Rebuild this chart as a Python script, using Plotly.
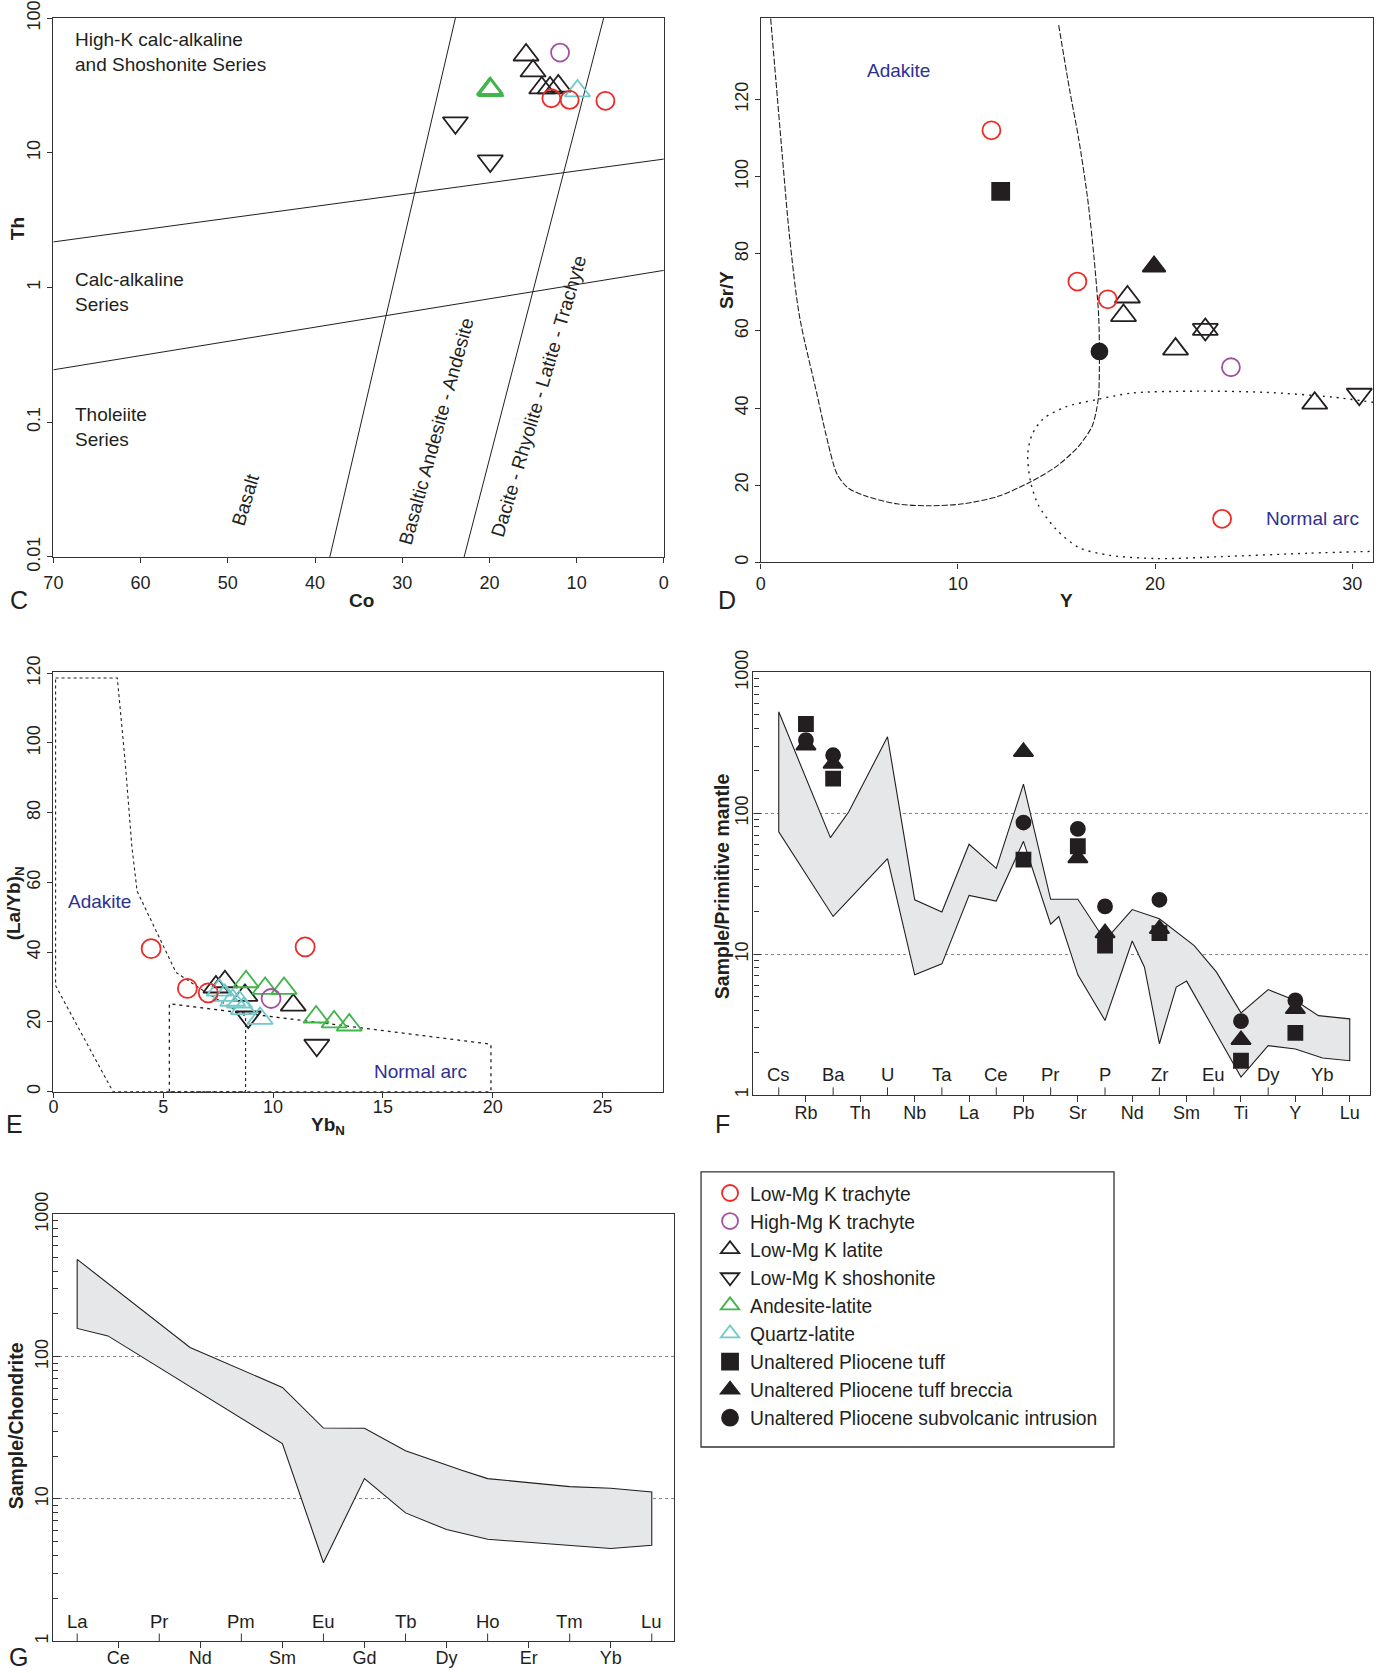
import plotly.graph_objects as go

FONT = "Liberation Sans, Arial, Helvetica, sans-serif"
INK = "#231f20"
RED = "#ee2a24"
PURPLE = "#a24fa6"
GREEN = "#3fb54a"
CYAN = "#72c9c9"
BLUE = "#2e3192"
BAND = "#e6e7e8"

# ---------------- Panel C : Th vs Co ----------------
C_TRACHYTE_LO_CO = [12.9, 10.8, 6.7]
C_TRACHYTE_LO_TH = [25.4, 24.7, 24.3]
C_TRACHYTE_HI_CO = [11.9]
C_TRACHYTE_HI_TH = [55.4]
C_LATITE_CO = [15.8, 15.0, 14.0, 13.05, 12.1]
C_LATITE_TH = [53.2, 40.5, 30.3, 30.3, 31.3]
C_SHOSHONITE_CO = [23.9, 19.9]
C_SHOSHONITE_TH = [16.7, 8.7]
C_ANDESITE_CO = [20.0, 19.85, 19.9]
C_ANDESITE_TH = [29.6, 29.0, 30.0]
C_QUARTZ_CO = [9.9]
C_QUARTZ_TH = [28.8]

# series boundaries (Co, Th end points)
C_SERIES_UPPER_CO = [70, 0]
C_SERIES_UPPER_TH = [2.18, 8.98]
C_SERIES_LOWER_CO = [70, 0]
C_SERIES_LOWER_TH = [0.245, 1.34]
C_ROCK_LEFT_CO = [38.3, 23.9]
C_ROCK_LEFT_TH = [0.01, 100]
C_ROCK_RIGHT_CO = [22.9, 6.9]
C_ROCK_RIGHT_TH = [0.01, 100]

# ---------------- Panel D : Sr/Y vs Y ----------------
D_TRACHYTE_LO_Y = [11.7, 16.06, 17.6, 23.4]
D_TRACHYTE_LO_SRY = [112.0, 72.8, 68.2, 11.3]
D_TRACHYTE_HI_Y = [23.85]
D_TRACHYTE_HI_SRY = [50.6]
D_LATITE_Y = [18.6, 18.4, 22.55, 21.04, 28.1]
D_LATITE_SRY = [68.8, 64.0, 60.4, 55.3, 41.3]
D_SHOSHONITE_Y = [22.55, 30.36]
D_SHOSHONITE_SRY = [60.4, 43.6]
D_TUFF_Y = [12.17]
D_TUFF_SRY = [96.2]
D_BRECCIA_Y = [19.95]
D_BRECCIA_SRY = [76.7]
D_INTRUSION_Y = [17.18]
D_INTRUSION_SRY = [54.7]

D_ADAKITE_Y = [0.5, 0.76, 1.10, 1.46, 1.96, 2.86, 3.31, 3.87, 4.43, 5.33, 6.9, 8.48,
               10.28, 12.08, 13.65, 15.0, 16.12, 16.8, 17.02, 17.14, 17.18, 17.14,
               16.9, 16.57, 16.12, 15.67, 15.11]
D_ADAKITE_SRY = [141.0, 125.4, 104.9, 84.4, 63.9, 43.4, 33.1, 22.9, 19.3, 17.2, 15.2, 14.7,
                 15.2, 17.2, 20.8, 24.9, 30.1, 35.2, 39.3, 43.4, 53.6, 63.9,
                 79.3, 94.7, 110.0, 122.4, 139.3]
D_ARC_Y = [31.08, 28.94, 25.57, 22.19, 18.82, 17.02, 15.45, 14.32, 13.76, 13.54, 13.69,
           14.1, 15.0, 16.12, 17.7, 20.17, 23.32, 27.8, 31.08]
D_ARC_SRY = [41.5, 42.9, 44.1, 44.4, 43.9, 42.2, 40.3, 37.2, 33.1, 28.0, 20.8,
             14.7, 8.5, 3.9, 1.85, 1.0, 1.5, 2.4, 2.9]

# ---------------- Panel E : (La/Yb)N vs YbN ----------------
E_TRACHYTE_LO_YB = [4.45, 6.1, 7.05, 11.46]
E_TRACHYTE_LO_LAYB = [41.0, 29.6, 28.3, 41.5]
E_TRACHYTE_HI_YB = [9.91]
E_TRACHYTE_HI_LAYB = [26.7]
E_LATITE_YB = [7.4, 7.81, 8.72, 10.92]
E_LATITE_LAYB = [30.0, 31.5, 27.6, 24.8]
E_SHOSHONITE_YB = [8.87, 11.99]
E_SHOSHONITE_LAYB = [21.4, 13.3]
E_ANDESITE_YB = [8.77, 9.64, 10.5, 11.96, 12.78, 13.47]
E_ANDESITE_LAYB = [31.5, 29.6, 29.6, 21.4, 20.0, 19.1]
E_QUARTZ_YB = [7.55, 7.81, 8.16, 8.47, 8.65, 9.41]
E_QUARTZ_LAYB = [29.1, 27.6, 26.2, 25.7, 23.8, 21.0]

E_ADAKITE_YB = [0.10, 2.91, 3.27, 3.57, 3.81, 5.58, 6.98, 8.75, 8.75, 2.71, 0.10, 0.10]
E_ADAKITE_LAYB = [118.6, 118.6, 94.4, 70.5, 57.5, 34.2, 28.3, 21.6, 0.0, 0.0, 30.4, 118.6]
E_ARC_YB = [5.28, 5.28, 19.92, 19.92, 5.28]
E_ARC_LAYB = [0.0, 25.2, 13.6, 0.0, 0.0]

# ---------------- Panel F : primitive-mantle normalised spider ----------------
F_ELEMENTS = ["Cs", "Rb", "Ba", "Th", "U", "Nb", "Ta", "La", "Ce", "Pb", "Pr",
              "Sr", "P", "Nd", "Zr", "Sm", "Eu", "Ti", "Dy", "Y", "Yb", "Lu"]
F_BAND_UPPER_POS = [0, 1.9, 2.57, 4, 5, 6, 7, 8, 9, 10, 11, 12, 13, 14, 15.28, 16.1,
                    17, 18, 19, 19.85, 21]
F_BAND_UPPER = [525, 67.1, 102, 349, 24.3, 19.9, 60.2, 40.6, 161, 24.5, 24.5, 12.5,
                20.7, 17.8, 11.5, 7.45, 3.83, 5.6, 4.69, 3.66, 3.47]
F_BAND_LOWER_POS = [0, 2, 4, 5, 6, 7, 8, 9, 10, 10.3, 11, 12, 13, 13.45, 14, 14.62,
                    15, 17, 18, 19, 20, 21]
F_BAND_LOWER = [73.7, 18.5, 47.6, 7.13, 8.53, 26.1, 23.8, 63.2, 16.3, 18.5, 7.13, 3.38,
                12.4, 8.08, 2.31, 5.83, 6.43, 1.34, 2.24, 2.12, 1.83, 1.75]
F_SAMPLE_ELEMENTS = ["Rb", "Ba", "Pb", "Sr", "P", "Zr", "Ti", "Y"]
F_TUFF = [430, 176, 46.9, 58.3, 11.5, 14.1, 1.75, 2.76]
F_BRECCIA = [304, 225, 273, 48.1, 14.1, 15.1, 2.46, 4.08]
F_INTRUSION = [330, 258, 85.9, 77.4, 21.8, 24.3, 3.34, 4.69]

# ---------------- Panel G : chondrite-normalised REE ----------------
G_ELEMENTS = ["La", "Ce", "Pr", "Nd", "Pm", "Sm", "Eu", "Gd", "Tb", "Dy", "Ho",
              "Er", "Tm", "Yb", "Lu"]
G_BAND_UPPER_POS = [0, 2.75, 5, 6, 7, 8, 9.37, 10, 12, 13, 14]
G_BAND_UPPER = [483, 116, 60.8, 31.5, 31.4, 21.8, 15.9, 13.9, 12.2, 11.9, 11.2]
G_BAND_LOWER_POS = [0, 0.75, 5, 6, 7, 8, 9, 10, 12, 13, 14]
G_BAND_LOWER = [158, 140, 24.5, 3.56, 13.9, 7.98, 6.09, 5.21, 4.73, 4.48, 4.73]

LOG_TICKS = [1, 10, 100, 1000]
LOG_MINOR = [m * d for d in (1, 10, 100) for m in range(2, 10)]

# marker style of every sample group
STYLE = {
    "Low-Mg K trachyte": dict(symbol="circle-open", color=RED),
    "High-Mg K trachyte": dict(symbol="circle-open", color=PURPLE),
    "Low-Mg K latite": dict(symbol="triangle-up-open", color=INK),
    "Low-Mg K shoshonite": dict(symbol="triangle-down-open", color=INK),
    "Andesite-latite": dict(symbol="triangle-up-open", color=GREEN),
    "Quartz-latite": dict(symbol="triangle-up-open", color=CYAN),
    "Unaltered Pliocene tuff": dict(symbol="square", color=INK),
    "Unaltered Pliocene tuff breccia": dict(symbol="triangle-up", color=INK),
    "Unaltered Pliocene subvolcanic intrusion": dict(symbol="circle", color=INK),
}
ORDER = list(STYLE.keys())

fig = go.Figure()


def points(x, y, group, ax, size, legend=False):
    st = STYLE[group]
    fig.add_trace(go.Scatter(
        x=x, y=y, mode="markers", name=group, xaxis="x" + ax, yaxis="y" + ax,
        legendgroup=group, showlegend=legend, legendrank=ORDER.index(group) + 1,
        marker=dict(symbol=st["symbol"], color=st["color"], size=size,
                    line=dict(color=st["color"], width=1.8)),
        hoverinfo="skip"))


def curve(x, y, ax, dash, shape="linear", fill=None, width=1.1):
    fig.add_trace(go.Scatter(
        x=x, y=y, mode="lines", xaxis="x" + ax, yaxis="y" + ax, showlegend=False,
        line=dict(color=INK, width=width, dash=dash, shape=shape, smoothing=0.8),
        fill=fill, fillcolor=BAND, hoverinfo="skip"))


# ---- C
for cx, cy in [(C_SERIES_UPPER_CO, C_SERIES_UPPER_TH), (C_SERIES_LOWER_CO, C_SERIES_LOWER_TH),
               (C_ROCK_LEFT_CO, C_ROCK_LEFT_TH), (C_ROCK_RIGHT_CO, C_ROCK_RIGHT_TH)]:
    curve(cx, cy, "", "solid", width=1.0)
points(C_LATITE_CO, C_LATITE_TH, "Low-Mg K latite", "", 22, True)
points(C_SHOSHONITE_CO, C_SHOSHONITE_TH, "Low-Mg K shoshonite", "", 22, True)
points(C_ANDESITE_CO, C_ANDESITE_TH, "Andesite-latite", "", 22, True)
points(C_QUARTZ_CO, C_QUARTZ_TH, "Quartz-latite", "", 22, True)
points(C_TRACHYTE_LO_CO, C_TRACHYTE_LO_TH, "Low-Mg K trachyte", "", 18, True)
points(C_TRACHYTE_HI_CO, C_TRACHYTE_HI_TH, "High-Mg K trachyte", "", 18, True)

# ---- D
curve(D_ADAKITE_Y, D_ADAKITE_SRY, "2", "6px,2px", shape="spline")
curve(D_ARC_Y, D_ARC_SRY, "2", "2px,5px", shape="spline", width=1.4)
points(D_LATITE_Y, D_LATITE_SRY, "Low-Mg K latite", "2", 22)
points(D_SHOSHONITE_Y, D_SHOSHONITE_SRY, "Low-Mg K shoshonite", "2", 22)
points(D_TRACHYTE_LO_Y, D_TRACHYTE_LO_SRY, "Low-Mg K trachyte", "2", 18)
points(D_TRACHYTE_HI_Y, D_TRACHYTE_HI_SRY, "High-Mg K trachyte", "2", 18)
points(D_TUFF_Y, D_TUFF_SRY, "Unaltered Pliocene tuff", "2", 17, True)
points(D_BRECCIA_Y, D_BRECCIA_SRY, "Unaltered Pliocene tuff breccia", "2", 20, True)
points(D_INTRUSION_Y, D_INTRUSION_SRY, "Unaltered Pliocene subvolcanic intrusion", "2", 16, True)

# ---- E
curve(E_ADAKITE_YB, E_ADAKITE_LAYB, "3", "3px,3px")
curve(E_ARC_YB, E_ARC_LAYB, "3", "3px,4px", width=1.3)
points(E_LATITE_YB, E_LATITE_LAYB, "Low-Mg K latite", "3", 22)
points(E_SHOSHONITE_YB, E_SHOSHONITE_LAYB, "Low-Mg K shoshonite", "3", 22)
points(E_ANDESITE_YB, E_ANDESITE_LAYB, "Andesite-latite", "3", 22)
points(E_QUARTZ_YB, E_QUARTZ_LAYB, "Quartz-latite", "3", 22)
points(E_TRACHYTE_LO_YB, E_TRACHYTE_LO_LAYB, "Low-Mg K trachyte", "3", 19)
points(E_TRACHYTE_HI_YB, E_TRACHYTE_HI_LAYB, "High-Mg K trachyte", "3", 19)

# ---- F
curve(F_BAND_UPPER_POS + F_BAND_LOWER_POS[::-1] + F_BAND_UPPER_POS[:1],
      F_BAND_UPPER + F_BAND_LOWER[::-1] + F_BAND_UPPER[:1], "4", "solid", fill="toself")
f_pos = [F_ELEMENTS.index(e) for e in F_SAMPLE_ELEMENTS]
points(f_pos, F_BRECCIA, "Unaltered Pliocene tuff breccia", "4", 17)
points(f_pos, F_INTRUSION, "Unaltered Pliocene subvolcanic intrusion", "4", 14)
points(f_pos, F_TUFF, "Unaltered Pliocene tuff", "4", 14)

# ---- G
curve(G_BAND_UPPER_POS + G_BAND_LOWER_POS[::-1] + G_BAND_UPPER_POS[:1],
      G_BAND_UPPER + G_BAND_LOWER[::-1] + G_BAND_UPPER[:1], "5", "solid", fill="toself")

# ---------------- axes ----------------
TICKFONT = dict(family=FONT, size=18, color=INK)


def frame(**kw):
    base = dict(showline=True, mirror=True, linecolor="#333333", linewidth=1.2,
                ticks="outside", ticklen=5, tickcolor="#333333", showgrid=False,
                zeroline=False, tickfont=TICKFONT, automargin=False,
                ticklabeloverflow="allow")
    base.update(kw)
    return base


def log_frame(**kw):
    return frame(type="log", range=[0, 3], tickvals=LOG_TICKS,
                 ticktext=[str(v) for v in LOG_TICKS], tickangle=-90,
                 ticks="inside", ticklen=7, ticklabelstandoff=-3,
                 showgrid=True, gridcolor="#888888", griddash="dot", gridwidth=1,
                 minor=dict(tickvals=LOG_MINOR, ticks="inside", ticklen=5,
                            tickcolor="#333333", showgrid=False), **kw)


DOM = {
    "C": ([0.0386, 0.4800], [0.6671, 0.9892]),
    "D": ([0.5501, 0.9931], [0.6638, 0.9892]),
    "E": ([0.0386, 0.4792], [0.3475, 0.5981]),
    "F": ([0.5448, 0.9907], [0.3455, 0.5981]),
    "G": ([0.0386, 0.4876], [0.0190, 0.2741]),
}

layout = dict(
    width=1383, height=1673, margin=dict(l=0, r=0, t=0, b=0, pad=0, autoexpand=False),
    paper_bgcolor="white", plot_bgcolor="white",
    font=dict(family=FONT, size=18, color=INK),
    xaxis=frame(domain=DOM["C"][0], anchor="y", range=[70, 0],
                tickvals=[70, 60, 50, 40, 30, 20, 10, 0], ticklabelstandoff=4),
    yaxis=frame(domain=DOM["C"][1], anchor="x", type="log", range=[-2, 2],
                tickvals=[0.01, 0.1, 1, 10, 100], ticktext=["0.01", "0.1", "1", "10", "100"],
                tickangle=-90),
    xaxis2=frame(domain=DOM["D"][0], anchor="y2", range=[0, 31.08], tickvals=[0, 10, 20, 30]),
    yaxis2=frame(domain=DOM["D"][1], anchor="x2", range=[0, 141.1],
                 tickvals=[0, 20, 40, 60, 80, 100, 120], tickangle=-90),
    xaxis3=frame(domain=DOM["E"][0], anchor="y3", range=[0, 27.74],
                 tickvals=[0, 5, 10, 15, 20, 25], ticklabelstandoff=-6),
    yaxis3=frame(domain=DOM["E"][1], anchor="x3", range=[0, 120.2],
                 tickvals=[0, 20, 40, 60, 80, 100, 120], tickangle=-90),
    xaxis4=frame(domain=DOM["F"][0], anchor="y4", range=[-0.93, 21.75],
                 tickvals=list(range(1, len(F_ELEMENTS), 2)),
                 ticktext=F_ELEMENTS[1::2], ticklen=6, ticklabelstandoff=-5),
    yaxis4=log_frame(domain=DOM["F"][1], anchor="x4"),
    xaxis5=frame(domain=DOM["G"][0], anchor="y5", range=[-0.58, 14.55],
                 tickvals=list(range(1, len(G_ELEMENTS), 2)),
                 ticktext=G_ELEMENTS[1::2], ticklen=6, ticklabelstandoff=-6),
    yaxis5=log_frame(domain=DOM["G"][1], anchor="x5"),
    legend=dict(x=0.5134, y=0.2983, xanchor="left", yanchor="top", bgcolor="rgba(0,0,0,0)",
                borderwidth=0, font=dict(family=FONT, size=19.3, color=INK),
                itemwidth=30, tracegroupgap=0, traceorder="normal"),
    showlegend=True,
)

ann = []
shapes = []


def text(s, x, y, xref="paper", yref="paper", size=18, color=INK, angle=0, xa="center",
         ya="middle", bold=False, align="center"):
    if bold:
        s = "<b>" + s + "</b>"
    ann.append(dict(text=s, x=x, y=y, xref=xref, yref=yref, showarrow=False,
                    textangle=angle, xanchor=xa, yanchor=ya, align=align,
                    font=dict(family=FONT, size=size, color=color)))


# axis titles and panel letters
text("Th", 0.0123, 0.863, angle=-90, bold=True, size=19)
text("Co", 0.2617, 0.6408, bold=True, size=19)
text("Sr/Y", 0.5249, 0.8266, angle=-90, bold=True, size=19)
text("Y", 0.7715, 0.6408, bold=True, size=19)
text("(La/Yb)<sub>N</sub>", 0.0108, 0.4600, angle=-90, bold=True, size=19)
text("Yb<sub>N</sub>", 0.2369, 0.3271, bold=True, size=19)
text("Sample/Primitive mantle", 0.5223, 0.4705, angle=-90, bold=True, size=19.5)
text("Sample/Chondrite", 0.0116, 0.1475, angle=-90, bold=True, size=19.5)
for letter, x, y in [("C", 0.0139, 0.6414), ("D", 0.5254, 0.6414), ("E", 0.0108, 0.3282),
                     ("F", 0.5223, 0.3282), ("G", 0.0131, 0.0096)]:
    text(letter, x, y, size=25)

# field names inside panel C
text("High-K calc-alkaline<br>and Shoshonite Series", 67.8, 1.747, "x", "y", 19,
     xa="left", align="left")
text("Calc-alkaline<br>Series", 67.8, -0.036, "x", "y", 19, xa="left", align="left")
text("Tholeiite<br>Series", 67.8, -1.034, "x", "y", 19, xa="left", align="left")
text("Basalt", 48.0, -1.57, "x", "y", 19, angle=-73)
text("Basaltic Andesite - Andesite", 26.1, -1.068, "x", "y", 19, angle=-74.5)
text("Dacite - Rhyolite - Latite - Trachyte", 14.4, -0.806, "x", "y", 19, angle=-73.5)

# field names inside panels D and E
text("Adakite", 6.98, 127.5, "x2", "y2", 19, BLUE)
text("Normal arc", 28.0, 11.4, "x2", "y2", 19, BLUE)
text("Adakite", 2.09, 54.4, "x3", "y3", 19, BLUE)
text("Normal arc", 16.7, 5.8, "x3", "y3", 19, BLUE)

# alternate element labels sit inside the frame with inward ticks
for ax, names in [("4", F_ELEMENTS), ("5", G_ELEMENTS)]:
    for i in range(0, len(names), 2):
        text(names[i], i, 0.018, "x" + ax, "y" + ax + " domain", 18.5, ya="bottom")
        shapes.append(dict(type="line", xref="x" + ax, yref="y" + ax + " domain",
                           x0=i, x1=i, y0=0, y1=0.018, line=dict(color="#333333", width=1)))

# legend frame
shapes.append(dict(type="rect", xref="paper", yref="paper", x0=0.5069, x1=0.8055,
                   y0=0.1351, y1=0.2995, line=dict(color="#333333", width=1.3)))

layout["annotations"] = ann
layout["shapes"] = shapes
fig.update_layout(**layout)
fig.write_html("out.html")
